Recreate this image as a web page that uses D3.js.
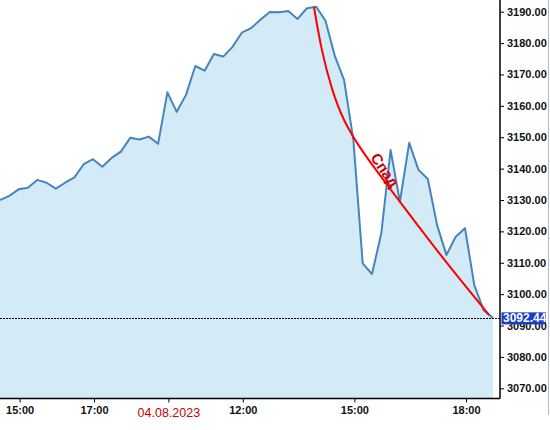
<!DOCTYPE html>
<html>
<head>
<meta charset="utf-8">
<script src="https://cdn.jsdelivr.net/npm/d3@7"></script>
<style>
  body { margin: 0; background: #fff; }
  svg text { font-family: "Liberation Sans", Arial, sans-serif; }
</style>
</head>
<body>
<div class="chart"></div>
<script>
// 15-minute closes, index 0 = first bar
const prices = [
  3130.0, 3131.3, 3133.4, 3133.9, 3136.4, 3135.5, 3133.6, 3135.5, 3137.2, 3141.4,
  3143.0, 3140.6, 3143.4, 3145.4, 3149.8, 3149.3, 3150.2, 3147.9, 3164.3, 3158.1,
  3163.5, 3172.7, 3171.2, 3176.5, 3175.7, 3178.8, 3183.3, 3184.8, 3187.4, 3189.9,
  3189.8, 3190.2, 3187.7, 3191.1, 3191.6, 3187.1, 3175.9, 3168.2, 3149.1, 3109.8,
  3106.4, 3119.4, 3145.9, 3129.5, 3148.2, 3139.6, 3136.7, 3122.0, 3112.5, 3118.3,
  3121.0, 3102.9, 3094.9, 3092.44
];
const lastPrice = 3092.44;

// time axis labels (bar index where they sit)
const tickIdx = [2, 10, 18, 26, 38, 50];
const tickLabels = ["15:00", "17:00", "04.08.2023", "12:00", "15:00", "18:00"];
const dateTick = "04.08.2023";

const yTicks = d3.range(3070, 3191, 10);

// "Спад" annotation path (bar index, price)
const dropIdx = [33.76, 34.6, 35.7, 37.0, 39.0, 42.5, 47.5, 52.6];
const dropVal = [3191.5, 3178.0, 3165.5, 3155.5, 3145.5, 3131.4, 3112.0, 3093.3];

var W = 550, H = 430;
var plotRight = 500, plotBottom = 398.5;

var svg = d3.select(".chart").append("svg")
  .attr("width", W).attr("height", H);

var x = d3.scaleLinear().domain([0, prices.length - 1]).range([0, 492.9]);
var y = d3.scaleLinear().domain([3070, 3190]).range([388.3, 11.7]);

// area + line
var area = d3.area()
  .x((d, i) => x(i))
  .y0(plotBottom)
  .y1(d => y(d));
var line = d3.line()
  .x((d, i) => x(i))
  .y(d => y(d));

svg.append("path")
  .datum(prices)
  .attr("d", area)
  .attr("fill", "#d3eaf7");

svg.append("path")
  .datum(prices)
  .attr("d", line)
  .attr("fill", "none")
  .attr("stroke", "#4684be")
  .attr("stroke-width", 2)
  .attr("stroke-linejoin", "round");

// last price dotted line
svg.append("line")
  .attr("x1", 0).attr("x2", plotRight)
  .attr("y1", Math.round(y(lastPrice)) + 0.5).attr("y2", Math.round(y(lastPrice)) + 0.5)
  .attr("stroke", "#000")
  .attr("stroke-width", 1)
  .attr("stroke-dasharray", "2,1");

// drop annotation
var dropLine = d3.line()
  .x(d => x(d[0]))
  .y(d => y(d[1]))
  .curve(d3.curveNatural);
svg.append("path")
  .datum(d3.zip(dropIdx, dropVal))
  .attr("d", dropLine)
  .attr("fill", "none")
  .attr("stroke", "#ff0000")
  .attr("stroke-width", 2);

svg.append("text")
  .attr("transform", "translate(385,170) rotate(56)")
  .attr("text-anchor", "middle")
  .attr("dominant-baseline", "central")
  .attr("fill", "#c80000")
  .style("font-size", "15px")
  .style("font-weight", "bold")
  .text("Спад");

// y axis on the right
var yAxis = d3.axisRight(y)
  .tickValues(yTicks)
  .tickSize(4)
  .tickPadding(3)
  .tickFormat(d3.format(".2f"));

var gy = svg.append("g")
  .attr("transform", "translate(" + plotRight + ",0)")
  .call(yAxis);
gy.select(".domain").remove();
gy.selectAll("text")
  .style("font-size", "11px")
  .style("font-weight", "bold")
  .attr("fill", "#111");

svg.append("line")
  .attr("x1", plotRight).attr("x2", plotRight)
  .attr("y1", 0).attr("y2", plotBottom)
  .attr("stroke", "#000").attr("stroke-width", 1.5);

// x axis
var xAxis = d3.axisBottom(x)
  .tickValues(tickIdx)
  .tickSize(4)
  .tickPadding(4)
  .tickFormat((d, i) => tickLabels[i]);

var gx = svg.append("g")
  .attr("transform", "translate(1," + plotBottom + ")")
  .call(xAxis);
gx.select(".domain").remove();
gx.selectAll("text")
  .style("font-size", "11px")
  .style("font-weight", "bold")
  .attr("fill", "#111");
gx.selectAll(".tick").filter((d, i) => tickLabels[i] === dateTick)
  .select("text")
  .style("font-size", "12.5px")
  .style("font-weight", "normal")
  .attr("fill", "#c80000")
  .attr("dy", "0.8em");

svg.append("line")
  .attr("x1", 0).attr("x2", plotRight)
  .attr("y1", plotBottom).attr("y2", plotBottom)
  .attr("stroke", "#000").attr("stroke-width", 1.5);

// last price tag (covers the 3090 tick label, as in the source chart)
var tagY = y(lastPrice);
svg.append("rect")
  .attr("x", 501.5).attr("y", tagY - 5.5)
  .attr("width", 44.5).attr("height", 12)
  .attr("fill", "#1a3cc8");
svg.append("text")
  .attr("x", 503).attr("y", tagY + 0.5)
  .attr("dominant-baseline", "central")
  .attr("fill", "#fff")
  .style("font-size", "12px")
  .style("font-weight", "bold")
  .text(d3.format(".2f")(lastPrice));

// right frame edge
svg.append("line")
  .attr("x1", 548.5).attr("x2", 548.5)
  .attr("y1", 0).attr("y2", 415)
  .attr("stroke", "#bbb").attr("stroke-width", 1);
</script>
</body>
</html>
